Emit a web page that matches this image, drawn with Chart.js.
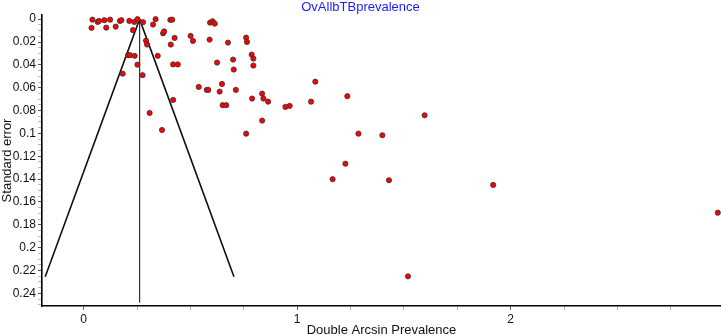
<!DOCTYPE html>
<html>
<head>
<meta charset="utf-8">
<script src="https://cdn.jsdelivr.net/npm/chart.js@4/dist/chart.umd.min.js"></script>
<style>
  html, body { margin: 0; padding: 0; background: #fff; }
  #wrap { width: 721px; height: 336px; position: relative; }
</style>
</head>
<body>
<div id="wrap"><canvas id="c"></canvas></div>
<script>
// ---- Data ----
const chartTitle = "OvAllbTBprevalence";
const xAxisTitle = "Double Arcsin Prevalence";
const yAxisTitle = "Standard error";

// Double arcsin prevalence per study
const prevalenceDA = [
  0.041, 0.037, 0.066, 0.072, 0.097, 0.106, 0.124, 0.150, 0.170, 0.177,
  0.214, 0.237, 0.252, 0.231, 0.278, 0.325, 0.337, 0.372, 0.377, 0.406,
  0.415,
  0.426, 0.501, 0.512, 0.292, 0.297, 0.408, 0.347, 0.208, 0.217, 0.239,
  0.252, 0.183, 0.276, 0.419, 0.441,
  0.592, 0.604, 0.614, 0.590, 0.676, 0.761, 0.765, 0.787, 0.795, 0.795,
  0.700, 0.703, 0.625, 0.648, 1.085,
  0.539, 0.577, 0.584, 0.637, 0.713, 0.419, 0.309, 0.367, 0.651, 0.668,
  0.789, 0.836, 0.842, 0.864, 0.945, 0.965, 1.065, 0.836, 0.761,
  1.235, 1.287, 1.226, 1.597, 1.399, 1.166, 1.430, 1.918, 2.970, 1.519
];
// Standard error per study
const standardError = [
  0.0004, 0.0076, 0.0024, 0.0015, 0.0009, 0.0074, 0.0004, 0.0065, 0.0015, 0.0009,
  0.0015, 0.0024, 0.0000, 0.0096, 0.0026, 0.0047, 0.0000, 0.0124, 0.0107, 0.0006,
  0.0004,
  0.0164, 0.0146, 0.0190, 0.0188, 0.0222, 0.0222, 0.0321, 0.0315, 0.0315, 0.0321,
  0.0398, 0.0477, 0.0490, 0.0396, 0.0396,
  0.0030, 0.0018, 0.0039, 0.0179, 0.0205, 0.0161, 0.0199, 0.0310, 0.0345, 0.0406,
  0.0354, 0.0441, 0.0380, 0.0567, 0.0547,
  0.0593, 0.0619, 0.0619, 0.0634, 0.0619, 0.0707, 0.0821, 0.0970, 0.0753, 0.0753,
  0.0695, 0.0652, 0.0695, 0.0722, 0.0768, 0.0759, 0.0722, 0.0888, 0.1002,
  0.0674, 0.1002, 0.1265, 0.0841, 0.1016, 0.1401, 0.1410, 0.1451, 0.1694, 0.2251
];

const pooledEstimate = 0.262;   // centre of the funnel
const funnelSE = [0, 0.2255];   // funnel from apex to widest SE
const centreLineSE = [0, 0.248];
const zValue = 1.96;

const xLimits = [-0.195, 2.985];
const yLimits = [-0.0037, 0.2511];
const xTickLabels = [0, 1, 2];
const yTickLabels = [0, 0.02, 0.04, 0.06, 0.08, 0.1, 0.12, 0.14, 0.16, 0.18, 0.2, 0.22, 0.24];

// ---- Build datasets ----
const points = prevalenceDA.map((x, i) => ({ x: x, y: standardError[i] }));
const funnelLine = [
  { x: pooledEstimate - zValue * funnelSE[1], y: funnelSE[1] },
  { x: pooledEstimate, y: funnelSE[0] },
  { x: pooledEstimate + zValue * funnelSE[1], y: funnelSE[1] }
];
const centreLine = centreLineSE.map(s => ({ x: pooledEstimate, y: s }));

const FONT = "'Liberation Sans', Arial, sans-serif";
const isMultiple = (v, step) => Math.abs(Math.round(v / step) * step - v) < 1e-9;

new Chart(document.getElementById('c'), {
  type: 'scatter',
  data: {
    datasets: [
      {
        label: 'studies',
        data: points,
        pointRadius: 2.6,
        pointBackgroundColor: '#ff0000',
        pointBorderColor: '#333',
        pointBorderWidth: 0.8,
        showLine: false,
        order: 0
      },
      {
        label: 'funnel',
        data: funnelLine,
        showLine: true,
        borderColor: '#111',
        borderWidth: 1.6,
        pointRadius: 0,
        fill: false,
        order: 1
      },
      {
        label: 'centre',
        data: centreLine,
        showLine: true,
        borderColor: '#333',
        borderWidth: 1,
        pointRadius: 0,
        fill: false,
        order: 2
      }
    ]
  },
  options: {
    responsive: true,
    maintainAspectRatio: false,
    animation: false,
    devicePixelRatio: 1,
    layout: { padding: 0, autoPadding: false },
    plugins: {
      legend: { display: false },
      tooltip: { enabled: false },
      title: {
        display: true,
        text: chartTitle,
        color: '#1a1aff',
        font: { family: FONT, size: 13, weight: 'normal', lineHeight: 1.15 },
        padding: { top: 0, bottom: 0 }
      }
    },
    scales: {
      x: {
        type: 'linear',
        min: xLimits[0],
        max: xLimits[1],
        afterFit: s => { s.height = 30; },
        border: { display: true, color: '#000', width: 1.6 },
        grid: {
          drawOnChartArea: false,
          drawTicks: true,
          tickLength: 4,
          tickColor: ctx => (ctx.tick && xTickLabels.some(v => Math.abs(v - ctx.tick.value) < 1e-9)) ? '#666' : '#aaa'
        },
        ticks: {
          stepSize: 0.25,
          includeBounds: false,
          autoSkip: false,
          maxRotation: 0,
          padding: 2,
          color: '#111',
          font: { family: FONT, size: 12 },
          callback: v => xTickLabels.some(t => Math.abs(t - v) < 1e-9) ? String(Math.round(v)) : ''
        },
        title: {
          display: true,
          text: xAxisTitle,
          color: '#111',
          font: { family: FONT, size: 13 },
          padding: { top: 0, bottom: -2 }
        }
      },
      y: {
        type: 'linear',
        reverse: true,
        min: yLimits[0],
        max: yLimits[1],
        afterFit: s => { s.width = 42; },
        border: { display: true, color: '#000', width: 1.6 },
        grid: {
          drawOnChartArea: false,
          drawTicks: true,
          tickLength: 4,
          tickColor: ctx => (ctx.tick && isMultiple(ctx.tick.value, 0.02)) ? '#555' : '#bbb'
        },
        ticks: {
          stepSize: 0.005,
          includeBounds: false,
          autoSkip: false,
          maxTicksLimit: 1000,
          padding: 2,
          color: '#111',
          font: { family: FONT, size: 12 },
          callback: v => yTickLabels.some(t => Math.abs(t - v) < 1e-9) ? String(Number(v.toFixed(2))) : ''
        },
        title: {
          display: true,
          text: yAxisTitle,
          color: '#111',
          font: { family: FONT, size: 13 },
          padding: { top: 0, bottom: 0 }
        }
      }
    }
  }
});
</script>
</body>
</html>
